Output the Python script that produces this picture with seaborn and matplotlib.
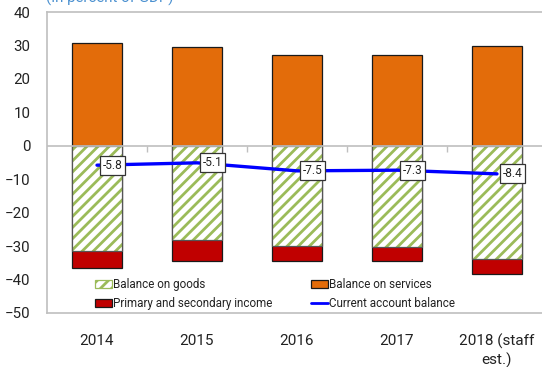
import numpy as np
import pandas as pd
import matplotlib
matplotlib.use("Agg")
import matplotlib.pyplot as plt
from matplotlib.patches import Patch
from matplotlib.lines import Line2D
import seaborn as sns

# Current account components, in percent of GDP
years = ["2014", "2015", "2016", "2017", "2018 (staff\nest.)"]
goods = [-31.4, -28.2, -29.9, -30.2, -33.9]
services = [30.6, 29.5, 27.1, 27.1, 29.8]
income = [-5.0, -6.4, -4.7, -4.2, -4.3]
current_account = [-5.8, -5.1, -7.5, -7.3, -8.4]

sns.set_theme(style="white")
plt.rcParams["font.family"] = ["Roboto", "DejaVu Sans"]
plt.rcParams["hatch.linewidth"] = 2.0

GREEN = "#9BBB59"
ORANGE = "#E36C0A"
RED = "#C00000"
edge = "#1a1a1a"

df = pd.DataFrame({
    "year": years,
    "goods": goods,
    "services": services,
    "income": income,
    "ca": current_account,
})
# income stacks below goods: draw the combined negative bar, then goods over it
df["goods_income"] = df["goods"] + df["income"]

fig = plt.figure(figsize=(5.42, 3.67), dpi=100)
ax = fig.add_axes([47 / 542, 1 - 313 / 367, 500 / 542, 301 / 367])

sns.barplot(data=df, x="year", y="services", color=ORANGE, saturation=1,
            width=0.5, edgecolor=edge, linewidth=0.9, ax=ax)
sns.barplot(data=df, x="year", y="goods_income", color=RED, saturation=1,
            width=0.5, edgecolor=edge, linewidth=0.9, ax=ax)
# goods: green hatching on white, then a dark outline on top
sns.barplot(data=df, x="year", y="goods", color="white", saturation=1,
            width=0.5, edgecolor=GREEN, linewidth=0, hatch="///", ax=ax)
sns.barplot(data=df, x="year", y="goods", color="#555555", saturation=1,
            width=0.5, fill=False, linewidth=0.9, ax=ax)

ax.axhline(0, color="#BFBFBF", linewidth=1.2, zorder=1.5)

xpos = np.arange(len(years))
sns.lineplot(x=xpos, y=df["ca"], color="#0000FF", linewidth=2.4, ax=ax,
             zorder=4, legend=False)
for xi, v in zip(xpos, df["ca"]):
    ax.annotate(f"{v:.1f}", (xi, v), xytext=(4, 0), textcoords="offset points",
                ha="left", va="center", fontsize=8.6, color="#222222", zorder=5,
                bbox=dict(boxstyle="square,pad=0.25", facecolor="white",
                          edgecolor="#333333", linewidth=0.9))

ax.set_ylim(-50, 40)
ax.set_xlim(-0.5, 4.5)
ax.set_yticks(range(-50, 41, 10))
ax.set_xlabel("")
ax.set_ylabel("")
ax.tick_params(axis="y", direction="in", length=6, color="#BFBFBF",
               width=1.0, pad=12, labelsize=10.8, labelcolor="#222222")
ax.tick_params(axis="x", length=0, pad=15, labelsize=11, labelcolor="#222222")
for lab in ax.get_xticklabels():
    lab.set_linespacing(1.3)

for side in ["left", "top", "bottom"]:
    ax.spines[side].set_color("#BFBFBF")
    ax.spines[side].set_linewidth(1.2)
ax.spines["right"].set_visible(False)

# category dividers along the zero line
sec = ax.secondary_xaxis(50 / 90)
sec.set_xticks(np.arange(0.5, 4.0, 1.0))
sec.tick_params(direction="in", length=4, color="#BFBFBF", width=1.0,
                labelbottom=False, labeltop=False)
sec.spines["bottom"].set_visible(False)
sec.spines["top"].set_visible(False)

handles = [
    Patch(facecolor="white", edgecolor=GREEN, hatch="///", linewidth=0.9,
          label="Balance on goods"),
    Patch(facecolor=RED, edgecolor=edge, linewidth=0.9,
          label="Primary and secondary income"),
    Patch(facecolor=ORANGE, edgecolor=edge, linewidth=0.9,
          label="Balance on services"),
    Line2D([0], [0], color="#0000FF", linewidth=2.0,
           label="Current account balance"),
]
leg = ax.legend(handles=handles, ncol=2, loc="lower left",
                bbox_to_anchor=(0.09, 0.0), frameon=False, fontsize=8.4,
                handlelength=1.45, handleheight=0.6, handletextpad=0.1,
                columnspacing=3.3, labelspacing=0.5, borderaxespad=0.0,
                borderpad=0.25)
for t in leg.get_texts():
    t.set_color("#222222")

fig.text(46 / 542, 1 - 3 / 367, "(In percent of GDP)", color="#4A90D0",
         fontsize=10.8, ha="left", va="baseline")

fig.savefig("out.png", dpi=100)
